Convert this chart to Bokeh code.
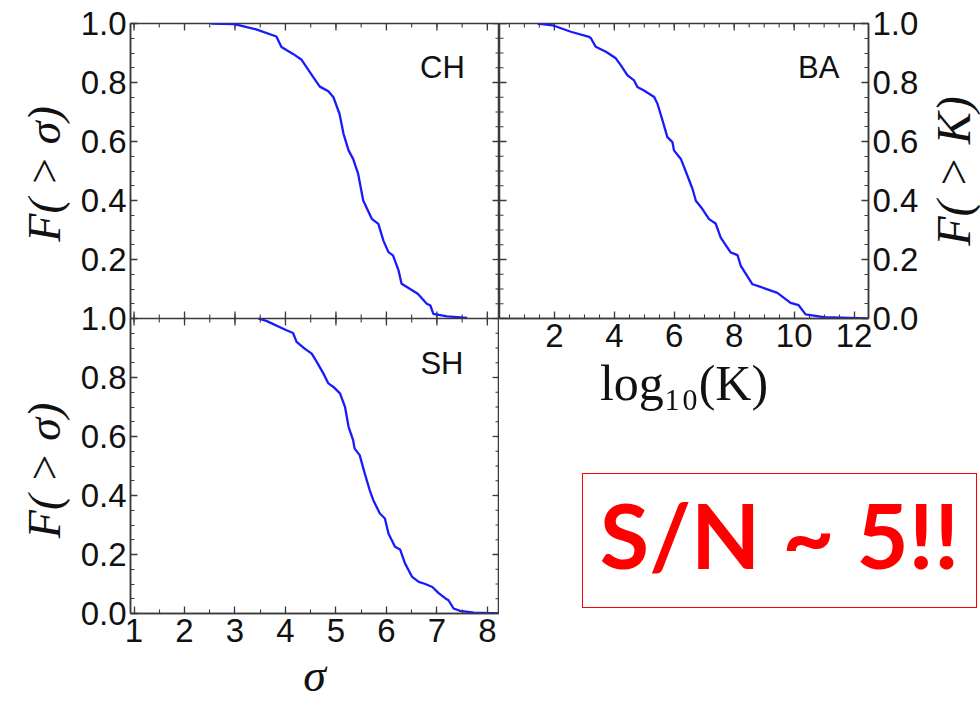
import numpy as np
from bokeh.plotting import figure
from bokeh.models import (Range1d, LinearAxis, FixedTicker, Span, Label,
                          CustomJSTickFormatter, Div)
from bokeh.layouts import row, column
from bokeh.embed import file_html
from bokeh.resources import INLINE

# ---------------- data ----------------
sigma_ch = [2.53, 2.99, 3.42, 3.82, 3.92, 4.15, 4.32, 4.55, 4.68, 4.85, 4.95, 5.07,
            5.15, 5.25, 5.34, 5.44, 5.54, 5.71, 5.84, 5.94, 6.04, 6.13, 6.24, 6.30,
            6.47, 6.62, 6.80, 6.87, 6.93, 7.20, 7.60]
frac_ch = [1.0, 0.998, 0.98, 0.956, 0.92, 0.897, 0.877, 0.818, 0.786, 0.77, 0.75, 0.694,
           0.626, 0.57, 0.541, 0.49, 0.40, 0.338, 0.321, 0.264, 0.225, 0.214, 0.163, 0.118,
           0.10, 0.084, 0.05, 0.044, 0.016, 0.007, 0.002]

sigma_sh = [3.46, 3.62, 4.02, 4.15, 4.22, 4.38, 4.52, 4.62, 4.75, 4.85, 4.95, 5.08,
            5.18, 5.25, 5.34, 5.37, 5.47, 5.57, 5.68, 5.74, 5.87, 5.97, 6.04, 6.17,
            6.27, 6.37, 6.51, 6.64, 6.77, 6.91, 7.04, 7.17, 7.23, 7.33, 7.46, 7.73, 8.23]
frac_sh = [1.0, 0.992, 0.96, 0.951, 0.921, 0.898, 0.881, 0.853, 0.814, 0.78, 0.768, 0.746,
           0.70, 0.633, 0.588, 0.559, 0.537, 0.475, 0.412, 0.384, 0.339, 0.322, 0.271, 0.226,
           0.217, 0.169, 0.124, 0.107, 0.10, 0.09, 0.068, 0.051, 0.045, 0.017, 0.009, 0.003, 0.0]

logk_ba = [1.44, 1.94, 2.55, 3.16, 3.22, 3.38, 3.72, 4.05, 4.22, 4.44, 4.66, 4.77, 4.99,
           5.33, 5.44, 5.61, 5.77, 5.94, 5.99, 6.22, 6.44, 6.61, 6.72, 6.94, 7.16, 7.38,
           7.55, 7.88, 8.11, 8.22, 8.61, 8.88, 9.44, 9.66, 9.88, 10.15, 10.38, 10.99, 12.44]
frac_ba = [1.0, 0.994, 0.972, 0.955, 0.95, 0.921, 0.904, 0.882, 0.858, 0.824, 0.807, 0.785,
           0.773, 0.751, 0.728, 0.671, 0.615, 0.598, 0.57, 0.541, 0.484, 0.439, 0.399, 0.371,
           0.337, 0.322, 0.274, 0.224, 0.215, 0.178, 0.116, 0.107, 0.087, 0.07, 0.053, 0.045,
           0.014, 0.005, 0.0]

sigma_ticks = [1, 2, 3, 4, 5, 6, 7, 8]
logk_ticks = [2, 4, 6, 8, 10, 12]
panel_names = ["CH", "BA", "SH"]
note_text = "S/N ~ 5!!"

# ---------------- style ----------------
AX = "#3a3a3a"
BLUE = "#1a1aff"
TXT = "#111111"
TICK_FONT = "Liberation Sans"
SERIF = "Liberation Serif"
MAJ_PX, MIN_PX = 7, 4


def style_axis(ax):
    ax.axis_line_color = AX
    ax.axis_line_width = 1.5
    ax.major_tick_line_color = AX
    ax.minor_tick_line_color = AX
    ax.major_tick_line_width = 1.3
    ax.minor_tick_line_width = 1.1
    ax.major_tick_in = MAJ_PX
    ax.major_tick_out = 0
    ax.minor_tick_in = MIN_PX
    ax.minor_tick_out = 0
    ax.major_label_text_font = TICK_FONT
    ax.major_label_text_color = TXT
    ax.major_label_text_font_size = "33px"
    ax.major_label_standoff = 4


def base_fig(**kw):
    p = figure(output_backend="svg", toolbar_location=None,
               x_axis_location=None, y_axis_location=None, **kw)
    p.grid.visible = False
    p.outline_line_color = None
    p.background_fill_color = "white"
    p.border_fill_color = "white"
    return p


def edge_ticks(p, positions, at, length, vertical, **kw):
    """Tick marks on a frame edge that carries no labels."""
    n = len(positions)
    if vertical:
        p.segment(x0=positions, x1=positions, y0=[at] * n, y1=[at + length] * n,
                  line_color=AX, **kw)
    else:
        p.segment(x0=[at] * n, x1=[at + length] * n, y0=positions, y1=positions,
                  line_color=AX, **kw)


# ---------------- left column: CH (top) and SH (bottom) ----------------
y_major_l = [round(v, 2) for v in np.arange(0, 2.001, 0.2)]
y_minor_l = [round(v, 3) for v in np.arange(0, 2.001, 0.05)]
x_minor_s = [round(v, 2) for v in np.arange(1, 8.01, 0.5)]

XL0, XL1 = 0.93, 8.24
pl = base_fig(frame_width=369, frame_height=590,
              x_range=Range1d(XL0, XL1), y_range=Range1d(0, 2),
              min_border_left=54, min_border_right=0,
              min_border_top=23, min_border_bottom=45)
pl.extra_y_ranges = {"top": Range1d(-1, 1)}
pl.outline_line_color = AX
pl.outline_line_width = 1.5

yfmt = CustomJSTickFormatter(code="return (tick > 1.001 ? tick - 1 : tick).toFixed(1);")
ax = LinearAxis(ticker=FixedTicker(ticks=y_major_l, minor_ticks=y_minor_l), formatter=yfmt)
style_axis(ax)
pl.add_layout(ax, "left")
ax = LinearAxis(ticker=FixedTicker(ticks=sigma_ticks, minor_ticks=x_minor_s))
style_axis(ax)
ax.major_label_standoff = 5
pl.add_layout(ax, "below")

sx = (XL1 - XL0) / 369.0
sy = 2.0 / 590.0
edge_ticks(pl, sigma_ticks, 2, -MAJ_PX * sy, True, line_width=1.3)
edge_ticks(pl, x_minor_s, 2, -MIN_PX * sy, True, line_width=1.1)
edge_ticks(pl, y_major_l, XL1, -MAJ_PX * sx, False, line_width=1.3)
edge_ticks(pl, y_minor_l, XL1, -MIN_PX * sx, False, line_width=1.1)
pl.add_layout(Span(location=1, dimension="width", line_color=AX, line_width=1.5))
edge_ticks(pl, sigma_ticks, 1 - MAJ_PX * sy, 2 * MAJ_PX * sy, True, line_width=1.3)
edge_ticks(pl, x_minor_s, 1 - MIN_PX * sy, 2 * MIN_PX * sy, True, line_width=1.1)

pl.line(sigma_ch, frac_ch, y_range_name="top", line_color=BLUE, line_width=2.3)
pl.line(sigma_sh, frac_sh, line_color=BLUE, line_width=2.3)

pl.add_layout(Label(x=7.11, y=0.85, y_range_name="top", text=panel_names[0],
                    text_font=TICK_FONT, text_font_size="31px", text_color=TXT,
                    text_align="center", text_baseline="alphabetic"))
pl.add_layout(Label(x=7.10, y=0.848, text=panel_names[2],
                    text_font=TICK_FONT, text_font_size="31px", text_color=TXT,
                    text_align="center", text_baseline="alphabetic"))

# x title under the left column (pulled up 10px into the empty border strip)
sigma_html = (
    '<div style="position:relative;width:423px;height:53px;">'
    '<div style="position:absolute;left:238.5px;top:2px;transform:translateX(-50%);'
    'font-family:\'Liberation Serif\';font-style:italic;font-size:46px;line-height:51px;'
    'color:#111111;white-space:nowrap;">σ</div></div>'
)
sigma_div = Div(text=sigma_html, width=423, height=53, margin=(-10, 0, 0, 0))

# strip on the far left carrying the two y titles
strip_l = base_fig(frame_width=76, frame_height=590, x_range=Range1d(0, 76),
                   y_range=Range1d(0, 2), min_border_left=0, min_border_right=0,
                   min_border_top=23, min_border_bottom=88)
for yc in (1.49, 0.485):
    strip_l.add_layout(Label(x=44, y=yc, text="F( > σ)", angle=np.pi / 2,
                             text_font=SERIF, text_font_style="italic",
                             text_font_size="46px", text_color=TXT,
                             text_align="center", text_baseline="middle"))

# ---------------- right top: BA ----------------
y_major_r = [round(v, 2) for v in np.arange(0, 1.001, 0.2)]
y_minor_r = [round(v, 3) for v in np.arange(0, 1.001, 0.05)]
x_minor_k = [round(v, 2) for v in np.arange(0.5, 12.51, 0.5)]

XR0, XR1 = 0.17, 12.48
p2 = base_fig(frame_width=369, frame_height=295,
              x_range=Range1d(XR0, XR1), y_range=Range1d(0, 1),
              min_border_left=0, min_border_right=54,
              min_border_top=23, min_border_bottom=110)
p2.outline_line_color = AX
p2.outline_line_width = 1.5
ax = LinearAxis(ticker=FixedTicker(ticks=y_major_r, minor_ticks=y_minor_r),
                formatter=CustomJSTickFormatter(code="return tick.toFixed(1);"))
style_axis(ax)
p2.add_layout(ax, "right")
ax = LinearAxis(ticker=FixedTicker(ticks=logk_ticks, minor_ticks=x_minor_k))
style_axis(ax)
ax.major_label_standoff = 5
ax.axis_label = "log₁₀(K)"
ax.axis_label_text_font = SERIF
ax.axis_label_text_font_style = "normal"
ax.axis_label_text_font_size = "50px"
ax.axis_label_text_color = TXT
ax.axis_label_standoff = 5
p2.add_layout(ax, "below")

sx2 = (XR1 - XR0) / 369.0
sy2 = 1.0 / 295.0
edge_ticks(p2, logk_ticks, 1, -MAJ_PX * sy2, True, line_width=1.3)
edge_ticks(p2, x_minor_k, 1, -MIN_PX * sy2, True, line_width=1.1)
edge_ticks(p2, y_major_r, XR0, MAJ_PX * sx2, False, line_width=1.3)
edge_ticks(p2, y_minor_r, XR0, MIN_PX * sx2, False, line_width=1.1)

p2.line(logk_ba, frac_ba, line_color=BLUE, line_width=2.3)
p2.add_layout(Label(x=10.82, y=0.85, text=panel_names[1],
                    text_font=TICK_FONT, text_font_size="31px", text_color=TXT,
                    text_align="center", text_baseline="alphabetic"))

strip_r = base_fig(frame_width=58, frame_height=295, x_range=Range1d(0, 58),
                   y_range=Range1d(0, 1), min_border_left=0, min_border_right=0,
                   min_border_top=23, min_border_bottom=110)
strip_r.add_layout(Label(x=31, y=0.5, text="F( > K)", angle=np.pi / 2,
                         text_font=SERIF, text_font_style="italic", text_font_size="48px",
                         text_color=TXT, text_align="center", text_baseline="middle"))

# ---------------- right bottom: note box ----------------
note_html = (
    '<div style="position:relative;width:481px;height:273px;">'
    '<div style="position:absolute;left:83px;top:45px;width:395px;height:135px;'
    'box-sizing:border-box;border:1.5px solid #ff0000;display:flex;'
    'align-items:center;justify-content:center;padding-bottom:14px;font-family:Lato;'
    'font-weight:bold;font-size:90px;line-height:1;color:#ff0000;white-space:nowrap;">'
    + note_text + '</div></div>'
)
note = Div(text=note_html, width=481, height=273, margin=0)

layout = row(strip_l, column(pl, sigma_div), column(row(p2, strip_r), note))
open("out.html", "w").write(file_html(layout, INLINE))
